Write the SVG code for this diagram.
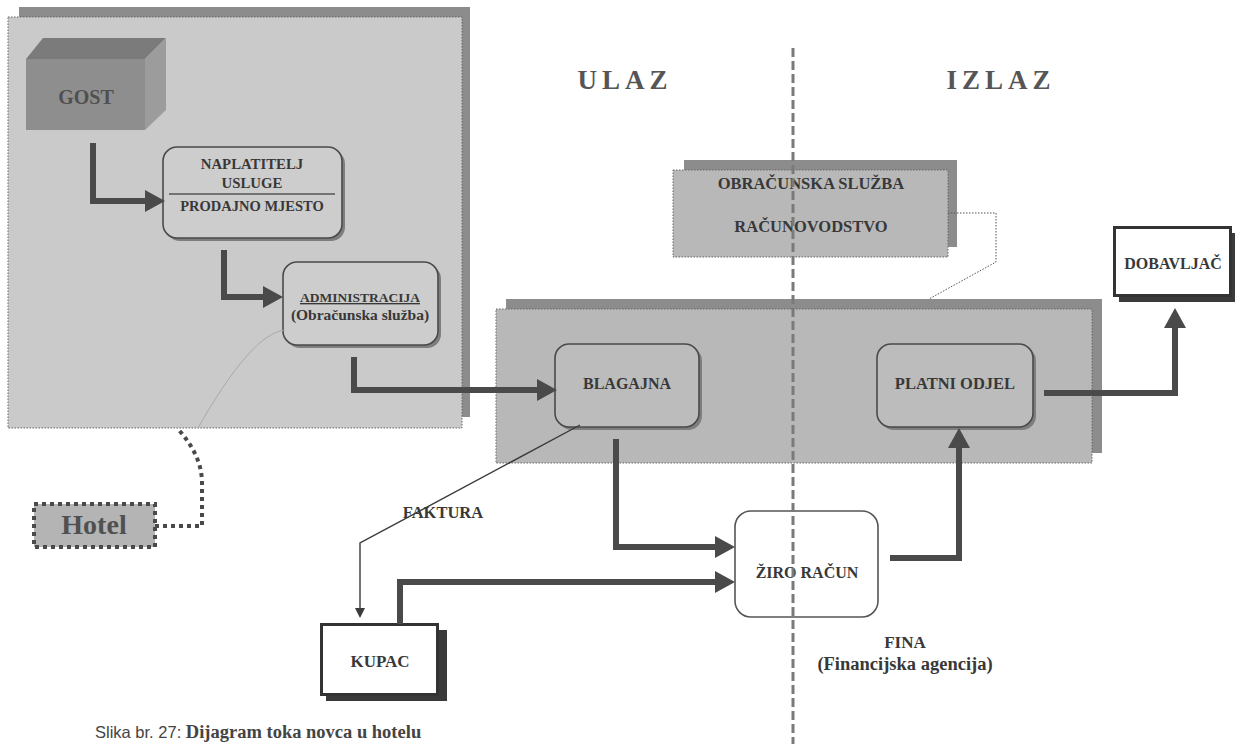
<svg xmlns="http://www.w3.org/2000/svg" width="1236" height="744" viewBox="0 0 1236 744">
<style>
.t{font-family:"Liberation Serif","Times New Roman",serif;font-weight:bold;fill:#383838;text-anchor:middle}
.title{font-family:"Liberation Serif","Times New Roman",serif;font-weight:bold;fill:#555555;font-size:27px;letter-spacing:5px;text-anchor:middle}
.shadow{fill:#8c8c8c}
.panel{stroke:#666;stroke-width:1;stroke-dasharray:1.5 1.5}
.rbox{stroke:#4a4a4a;stroke-width:1.6}
.flow{fill:none;stroke:#4a4a4a;stroke-width:6}
.thin{fill:none;stroke:#3a3a3a;stroke-width:1.4}
.dotted{fill:none;stroke:#4a4a4a;stroke-width:4;stroke-dasharray:4 4}
</style>
<defs>
<marker id="ah" markerUnits="userSpaceOnUse" viewBox="0 0 20 22" markerWidth="20" markerHeight="22" refX="0" refY="11" orient="auto">
<path d="M0,0 L20,11 L0,22 Z" fill="#4a4a4a"/>
</marker>
<marker id="ahs" markerUnits="userSpaceOnUse" viewBox="0 0 10 10" markerWidth="10" markerHeight="10" refX="0" refY="5" orient="auto">
<path d="M0,0 L10,5 L0,10 Z" fill="#3a3a3a"/>
</marker>
</defs>
<rect width="1236" height="744" fill="#ffffff"/>

<g id="titles">
<text class="title" x="625" y="89">ULAZ</text>
<text class="title" x="1001" y="89">IZLAZ</text>
</g>

<g id="hotel-panel">
<rect class="shadow" x="19" y="7" width="451" height="410"/>
<rect class="panel" x="8" y="17" width="454" height="411" fill="#cacaca"/>
</g>

<g id="gost">
<polygon points="26,59 43,38 166,38 145,59" fill="#7b7b7b"/>
<polygon points="145,59 166,38 166,110 145,130" fill="#9c9c9c"/>
<rect x="26" y="59" width="119" height="71" fill="#8e8e8e"/>
<text x="86" y="104" font-family="Liberation Serif, serif" font-weight="bold" font-size="20" fill="#505050" text-anchor="middle">GOST</text>
</g>

<g id="naplatitelj">
<rect x="166" y="150" width="179" height="91" rx="14" fill="#7e7e7e"/>
<rect class="rbox" x="163" y="147" width="179" height="91" rx="14" fill="#cdcdcd"/>
<text class="t" x="252" y="169" font-size="14.8">NAPLATITELJ</text>
<text class="t" x="252" y="188" font-size="14.8">USLUGE</text>
<line x1="169" y1="194" x2="335" y2="194" stroke="#555" stroke-width="1.5"/>
<text class="t" x="252" y="211" font-size="14.5">PRODAJNO MJESTO</text>
</g>

<g id="administracija">
<rect x="286" y="265" width="155" height="83" rx="14" fill="#7e7e7e"/>
<rect class="rbox" x="283" y="262" width="155" height="83" rx="14" fill="#cdcdcd"/>
<text class="t" x="360" y="302" font-size="13.5" text-decoration="underline">ADMINISTRACIJA</text>
<text class="t" x="360" y="320" font-size="15.5">(Obračunska služba)</text>
</g>

<g id="hotel-label">
<rect x="34" y="504" width="121" height="43" fill="#b4b4b4" stroke="#4a4a4a" stroke-width="4" stroke-dasharray="4 4"/>
<text x="94" y="534" font-family="Liberation Serif, serif" font-weight="bold" font-size="28" fill="#505050" text-anchor="middle">Hotel</text>
</g>

<g id="obracunska">
<rect class="shadow" x="684" y="160" width="273" height="87"/>
<rect class="panel" x="673" y="170" width="275" height="87" fill="#b8b8b8"/>
<text class="t" x="811" y="189" font-size="16.5">OBRAČUNSKA SLUŽBA</text>
<text class="t" x="811" y="232" font-size="16.5">RAČUNOVODSTVO</text>
</g>

<g id="middle-panel">
<rect class="shadow" x="506" y="299" width="596" height="154"/>
<rect class="panel" x="496" y="309" width="596" height="154" fill="#b8b8b8"/>
</g>

<g id="blagajna">
<rect x="558" y="347" width="144" height="83" rx="14" fill="#7e7e7e"/>
<rect class="rbox" x="555" y="344" width="144" height="83" rx="14" fill="#bcbcbc"/>
<text class="t" x="627" y="389" font-size="16">BLAGAJNA</text>
</g>

<g id="platni-odjel">
<rect x="880" y="347" width="156" height="83" rx="14" fill="#7e7e7e"/>
<rect class="rbox" x="877" y="344" width="156" height="83" rx="14" fill="#bcbcbc"/>
<text class="t" x="955" y="389" font-size="16.5">PLATNI ODJEL</text>
</g>

<g id="dobavljac">
<rect x="1119" y="233" width="116" height="69" fill="#3a3a3a"/>
<rect x="1114.5" y="227.5" width="116" height="68" fill="#ffffff" stroke="#333" stroke-width="3"/>
<text class="t" x="1173" y="269" font-size="16">DOBAVLJAČ</text>
</g>

<g id="ziro-racun">
<rect x="735" y="511" width="143" height="106" rx="16" fill="#ffffff" stroke="#555" stroke-width="1.6"/>
<text class="t" x="807" y="578" font-size="16">ŽIRO RAČUN</text>
</g>

<g id="fina">
<text class="t" x="905" y="648" font-size="17">FINA</text>
<text class="t" x="905" y="670" font-size="18.5">(Financijska agencija)</text>
</g>

<g id="kupac">
<rect x="326" y="630" width="121" height="71" fill="#3a3a3a"/>
<rect x="321.5" y="624.5" width="116" height="70" fill="#ffffff" stroke="#333" stroke-width="3"/>
<text class="t" x="380" y="667" font-size="17">KUPAC</text>
</g>

<g id="divider">
<line x1="793" y1="48" x2="793" y2="744" stroke="#7a7a7a" stroke-width="3" stroke-dasharray="9 4"/>
</g>

<g id="connectors">
<path class="flow" d="M93,143 V201 H145" marker-end="url(#ah)"/>
<path class="flow" d="M224,250 V297 H263" marker-end="url(#ah)"/>
<path class="flow" d="M354,357 V390 H537" marker-end="url(#ah)"/>
<path class="flow" d="M616,439 V547 H715" marker-end="url(#ah)"/>
<path class="flow" d="M400,624 V582 H715" marker-end="url(#ah)"/>
<path class="flow" d="M890,558 H959 V448" marker-end="url(#ah)"/>
<path class="flow" d="M1044,393 H1175 V328" marker-end="url(#ah)"/>
<path class="thin" d="M580,425 L360,543 V608" marker-end="url(#ahs)"/>
<text class="t" x="443" y="518" font-size="16.5">FAKTURA</text>
<path class="dotted" d="M155,526 H202 V483 Q202,455 177,428"/>
<path fill="none" stroke="#555" stroke-width="1" stroke-dasharray="1.5 1.5" d="M948,213 H996 V262 L929,299"/>
<path fill="none" stroke="#a9a9a9" stroke-width="1" d="M285,330 C262,332 232,368 198,428"/>
</g>

<g id="caption">
<text x="95" y="738" font-family="Liberation Sans, Arial, sans-serif" font-size="16.5" fill="#444">Slika br. 27: <tspan font-family="Liberation Serif, serif" font-weight="bold" font-size="18.5">Dijagram toka novca u hotelu</tspan></text>
</g>
</svg>
